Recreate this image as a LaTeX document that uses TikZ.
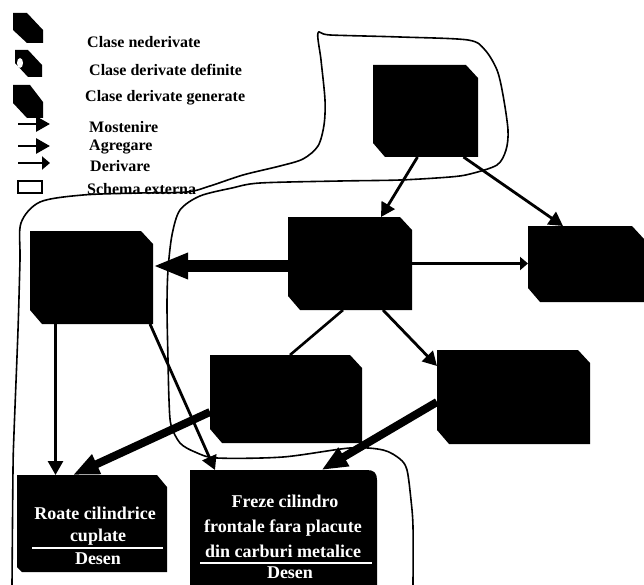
\documentclass[tikz,border=0pt]{standalone}
\usepackage{fontspec}
\setmainfont{Liberation Serif}
\usetikzlibrary{arrows.meta}
\begin{document}
\begin{tikzpicture}[x=1pt,y=-1pt,
  cls/.style={rectangle, draw=none, inner sep=0pt, outer sep=0pt},
  legtext/.style={anchor=west, inner sep=0pt, font=\fontsize{16}{18}\selectfont\bfseries},
  boxtext/.style={inner sep=0pt, text=white, font=\fontsize{18}{20}\selectfont\bfseries},
  inh/.style={line width=2.8pt, -{Triangle[length=14pt,width=15pt]}},
  agg/.style={line width=8pt, -{Triangle[length=26pt,width=20pt]}},
  aggbig/.style={line width=12pt, -{Triangle[length=35pt,width=24pt]}},
  der/.style={line width=2.2pt, -{Triangle[length=8pt,width=13pt]}},
  plainline/.style={line width=2.6pt},
  outline/.style={line width=1.6pt, line join=round, line cap=round},
  sepline/.style={white, line width=1.4pt}
]
\useasboundingbox (0,0) rectangle (644,585);
\fill[white] (0,0) rectangle (644,585);

% ---- legend ----
\fill (13,13) -- (27,13) -- (43,30) -- (43,43) -- (27,43) -- (13,30) -- cycle;
\fill (15,50) -- (28,50) -- (42,65) -- (42,77) -- (28,77) -- (15,63) -- cycle;
\fill[white] (20,63) ellipse [x radius=3pt, y radius=5pt];
\fill (13,85) -- (30,85) -- (43,102) -- (43,118) -- (27,118) -- (13,103) -- cycle;

\coordinate (m1) at (18,124); \coordinate (m2) at (50,124);
\coordinate (g1) at (18,146); \coordinate (g2) at (50,146);
\coordinate (d1) at (18,163); \coordinate (d2) at (50,163);
\draw[inh] (m1) -- (m2);
\draw[inh] (g1) -- (g2);
\draw[der] (d1) -- (d2);
\draw[line width=1.5pt] (18,181) rectangle (42,193);

\node[legtext] (t1) at (87,42) {Clase nederivate};
\node[legtext] (t2) at (89,70) {Clase derivate definite};
\node[legtext] (t3) at (85,98) {Clase derivate generate};
\node[legtext] (t4) at (89,127) {Mostenire};
\node[legtext] (t5) at (89,147) {Agregare};
\node[legtext] (t6) at (90,166) {Derivare};
\node[legtext] (t7) at (87,189) {Schema externa};

% ---- outline of the external schema ----
\draw[outline] plot[smooth, tension=0.5] coordinates {
  (12,585) (13,470) (14,433) (18,330) (20,260) (21,223) (40,202) (83,195)
  (140,193) (187,192) (210,186) (243,175) (280,166) (303,159) (318,146)
  (324,125) (325,100) (321,60) (318,33) (330,35) (400,37) (468,40) (485,50)
  (497,70) (503,95) (508,130) (506,150) (497,165) (470,174) (450,177)
  (400,180) (340,181) (260,183) (232,188) (200,196) (180,210) (172,235)
  (168,270) (167,307) (168,360) (169,400) (171,425) (180,443) (195,452)
  (217,458) (283,457) (350,448) (383,450) (400,459) (407,470) (411,500)
  (413,527) (413,585)};

% ---- classes ----
\node[cls, minimum width=105pt, minimum height=92pt] (T) at (425.5,111) {};
\node[cls, minimum width=123pt, minimum height=93pt] (L) at (91.5,277.5) {};
\node[cls, minimum width=124pt, minimum height=93pt] (M) at (350,263.5) {};
\node[cls, minimum width=116pt, minimum height=76pt] (R) at (586,264) {};
\node[cls, minimum width=152pt, minimum height=88pt] (D) at (286,399) {};
\node[cls, minimum width=153pt, minimum height=94pt] (E) at (513.5,397) {};
\node[cls, minimum width=150pt, minimum height=97pt] (A) at (92,523.5) {};
\node[cls, minimum width=187pt, minimum height=115pt] (B) at (283.5,527.5) {};

\foreach \n in {T,L,M,R,D,E}
  \fill (\n.north west) -- ([xshift=-12pt]\n.north east) -- ([yshift=-13pt]\n.north east)
        -- (\n.south east) -- ([xshift=12pt]\n.south west) -- ([yshift=14pt]\n.south west) -- cycle;
\fill (A.north west) -- ([xshift=-10pt]A.north east) -- ([yshift=-12pt]A.north east)
      -- (A.south east) -- ([xshift=5pt]A.south west) -- ([yshift=5pt]A.south west) -- cycle;
\fill (B.north west) -- ([xshift=-10pt]B.north east)
      .. controls ([xshift=-3pt]B.north east) and ([yshift=-3pt]B.north east) .. ([yshift=-10pt]B.north east)
      -- (B.south east) -- (B.south west) -- cycle;

% ---- texts inside the generated classes ----
\node[boxtext] (a1) at (95,513) {Roate cilindrice};
\node[boxtext] (a2) at (98,537) {cuplate};
\node[boxtext] (a3) at (98,559) {Desen};
\draw[sepline] (32,548) -- (163,548);
\node[boxtext] (b1) at (285,501) {Freze cilindro};
\node[boxtext] (b2) at (283,528) {frontale fara placute};
\node[boxtext] (b3) at (283,551) {din carburi metalice};
\node[boxtext] (b4) at (290,573) {Desen};
\draw[sepline] (200,563) -- (372,563);

% ---- connectors ----
\draw[inh] ([xshift=-8pt]T.south) -- ([xshift=31pt]M.north);
\draw[inh] ([xshift=38pt]T.south) -- ([xshift=-23pt]R.north);
\draw[aggbig] ([yshift=-2.5pt]M.west) -- ([yshift=11.5pt]L.east);
\draw[der] (M.east) -- (M.east -| R.west);
\draw[plainline] ([xshift=-7pt]M.south) -- ([xshift=4pt]D.north);
\draw[inh] ([xshift=33pt]M.south) -- ([yshift=31pt]E.west);
\draw[inh] ([xshift=-36pt]L.south) -- ([xshift=-36pt]L.south |- A.north);
\draw[inh] ([xshift=-3pt]L.south east) -- ([xshift=25pt]B.north west);
\draw[agg] ([yshift=-13pt]D.west) -- ([xshift=-19pt]A.north);
\draw[agg] ([yshift=-5pt]E.west) -- ([xshift=38pt]B.north);
\end{tikzpicture}
\end{document}
